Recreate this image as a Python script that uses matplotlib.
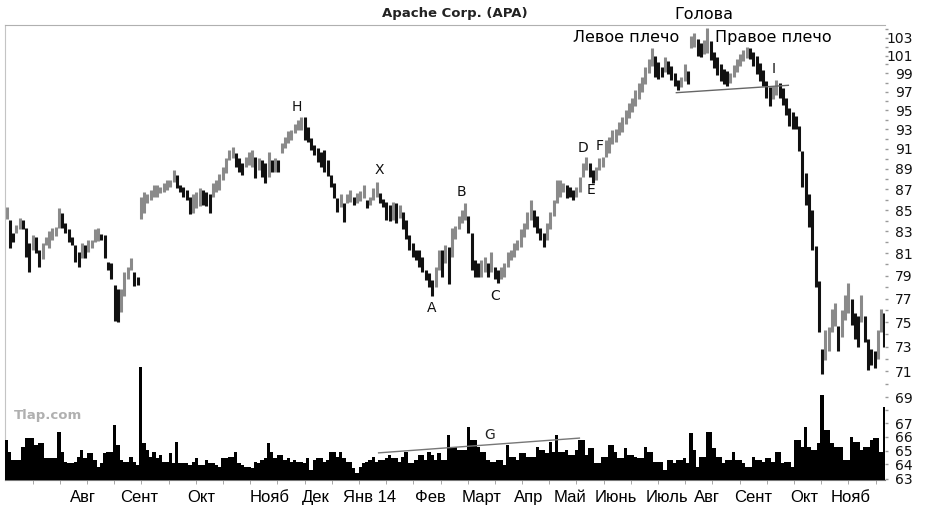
import numpy as np
import matplotlib.pyplot as plt
from matplotlib.ticker import FixedLocator, FuncFormatter, NullFormatter

# Apache Corp. (APA), Jul 2013 - Nov 2014, bar chart
HIGH = [
    85.3, 84.1, 82.9, 83.6, 84.3, 84.1, 83.3, 81.9, 82.7, 82.5,
    81.3, 81.9, 82.5, 83.0, 83.3, 83.4, 85.2, 84.7, 83.8, 83.2,
    82.5, 81.8, 81.1, 81.9, 81.8, 82.2, 82.2, 83.2, 83.3, 82.8,
    82.7, 80.2, 80.1, 78.2, 77.8, 77.8, 79.3, 79.8, 80.6, 79.3,
    78.9,
    86.3, 86.7, 86.5, 86.9, 87.4, 87.4, 87.2, 87.6, 87.9, 87.9,
    88.9, 88.4, 87.4, 87.2, 86.9, 86.3, 86.5, 86.7, 87.1, 86.9,
    86.7, 86.5, 87.6, 87.9, 88.5, 89.2, 90.1, 90.9, 91.2, 90.6,
    90.1, 89.6, 90.2, 90.7, 90.9, 90.2, 90.1, 89.9, 89.6, 90.7,
    89.9, 90.1, 89.9, 91.6, 92.2, 92.8, 92.9, 93.6, 94.0,
    94.3, 94.3, 93.3, 92.1, 91.4, 91.1, 90.7, 90.9, 89.9, 88.4,
    87.6, 86.2, 86.5, 85.7, 86.5, 86.9, 86.3, 86.6, 86.8, 87.4,
    86.0, 86.3, 87.1, 87.7, 86.6, 86.1, 85.8, 85.5, 85.8, 85.7,
    85.5, 84.8, 84.1, 82.7, 81.9, 81.3, 81.3, 80.7, 79.5, 79.2,
    78.6, 79.8, 81.3, 81.3, 81.8, 81.6,
    83.3, 83.5, 84.4, 85.0, 85.7, 84.4, 82.9, 80.4, 80.1, 80.4,
    80.7, 80.1, 81.1, 79.8, 79.5, 79.8, 80.1, 81.1, 81.3, 81.9,
    82.2, 83.2, 83.8, 84.8, 86.0, 85.0, 84.4, 83.3, 82.9, 83.8,
    84.8, 86.0, 87.9, 87.9, 87.6, 87.4, 87.2, 86.9, 87.2, 88.2,
    89.6, 90.2, 89.6, 88.9, 89.2, 90.1, 90.2,
    91.9, 92.2, 92.9, 93.0, 93.8, 94.3, 95.0, 95.8, 96.3, 97.2,
    97.9, 98.6, 99.7, 100.6, 101.9, 101.0, 100.3, 99.7, 100.8, 100.4,
    99.8, 99.1, 98.3, 98.6, 100.0, 99.3, 103.2, 103.6, 102.9, 102.4,
    102.8, 104.2, 102.6, 101.4, 100.8, 100.0, 99.5, 99.3, 99.0, 99.9,
    100.6, 101.2, 101.6, 102.0, 101.8, 101.4, 100.9, 100.2, 99.4, 98.2,
    97.5, 97.6, 98.3, 97.9, 97.4, 96.3, 95.3, 94.8, 94.4, 93.4,
    90.8, 88.6, 86.5, 85.0, 81.7, 78.5, 72.8, 74.4, 74.6, 76.1,
    76.6, 74.7, 76.0, 77.3, 78.4, 77.0, 75.8, 75.5, 77.3, 75.5,
    73.6, 72.8, 72.6, 74.4, 76.1, 75.8, 73.0,
]
LOW = [
    84.2, 81.5, 82.0, 82.9, 83.2, 83.2, 80.7, 79.3, 81.3, 81.0,
    79.8, 80.5, 81.8, 81.5, 82.2, 82.6, 83.3, 83.3, 82.9, 82.0,
    81.8, 80.2, 79.8, 80.6, 80.6, 81.1, 81.5, 82.0, 82.1, 82.2,
    80.6, 79.5, 78.7, 75.1, 75.0, 75.9, 77.2, 78.7, 79.5, 78.1,
    78.2,
    84.2, 84.7, 85.7, 86.0, 86.3, 86.3, 86.6, 86.7, 86.9, 87.2,
    87.7, 87.1, 86.7, 86.3, 86.0, 84.6, 84.7, 85.2, 85.4, 85.5,
    85.4, 84.7, 86.3, 86.7, 86.9, 87.9, 88.6, 89.9, 90.1, 89.2,
    88.7, 88.4, 89.2, 89.4, 89.2, 88.1, 88.9, 88.2, 87.6, 88.2,
    88.7, 88.7, 88.7, 90.6, 91.1, 91.6, 91.9, 92.6, 92.9,
    92.9, 91.9, 91.7, 90.9, 90.4, 89.7, 89.2, 88.7, 88.3, 87.2,
    86.2, 84.8, 85.3, 83.9, 85.7, 85.8, 85.5, 85.7, 85.9, 86.2,
    85.2, 85.5, 86.0, 86.3, 85.7, 85.3, 84.1, 84.0, 84.1, 83.8,
    84.3, 83.2, 82.3, 81.3, 80.7, 80.4, 79.8, 79.3, 78.6, 78.0,
    77.2, 78.0, 79.5, 78.9, 80.1, 78.3,
    80.7, 82.3, 83.2, 83.8, 84.1, 82.9, 79.5, 78.9, 78.9, 78.9,
    79.3, 78.9, 79.3, 78.7, 78.4, 78.7, 78.9, 79.8, 80.4, 80.7,
    81.3, 81.6, 82.5, 83.2, 84.1, 83.4, 82.9, 82.2, 81.6, 82.2,
    83.2, 84.4, 85.7, 86.3, 86.7, 86.2, 86.3, 86.0, 86.3, 86.7,
    88.2, 88.9, 88.2, 87.6, 87.9, 88.9, 89.2,
    90.2, 90.6, 91.5, 91.7, 92.4, 92.7, 93.6, 94.2, 94.8, 95.5,
    96.2, 97.0, 97.8, 99.0, 99.8, 98.6, 98.4, 98.6, 99.2, 98.9,
    98.3, 97.6, 97.2, 97.5, 98.2, 97.8, 101.8, 102.0, 100.9, 100.8,
    101.2, 101.3, 100.5, 99.6, 98.8, 98.2, 97.8, 97.6, 97.9, 98.6,
    99.2, 99.8, 100.4, 100.7, 100.6, 99.8, 98.9, 98.2, 97.6, 96.3,
    95.5, 96.2, 96.6, 96.3, 95.6, 94.5, 93.4, 93.0, 93.1, 90.8,
    87.2, 85.5, 83.4, 81.3, 78.0, 74.2, 70.8, 71.9, 72.6, 74.2,
    74.7, 72.6, 73.8, 75.2, 75.8, 74.8, 73.6, 73.0, 75.0, 73.4,
    71.1, 71.5, 71.3, 72.0, 74.2, 73.0, 71.9,
]
# volume, millions of shares
VOLUME = [
    5.0, 3.5, 2.5, 2.5, 2.5, 4.1, 5.3, 5.3, 5.3, 4.4,
    4.6, 4.6, 2.8, 2.8, 2.8, 2.8, 6.0, 3.5, 2.3, 2.1,
    2.1, 2.3, 2.9, 3.8, 2.8, 3.4, 3.4, 2.5, 1.6, 2.1,
    3.4, 3.5, 3.5, 6.9, 4.4, 2.5, 2.3, 2.3, 2.9, 2.3,
    1.9,
    14.1, 4.6, 3.8, 2.9, 3.5, 2.8, 3.1, 2.3, 2.3, 3.4,
    2.1, 4.8, 2.1, 2.1, 2.1, 1.9, 2.3, 2.8, 1.9, 1.9,
    2.5, 2.1, 2.1, 1.9, 1.6, 2.8, 2.8, 2.9, 2.9, 3.5,
    2.1, 1.9, 1.6, 1.6, 1.5, 2.3, 2.1, 2.5, 2.8, 4.6,
    3.5, 2.8, 3.1, 3.1, 2.5, 2.8, 2.3, 2.5, 2.3,
    2.3, 2.1, 2.8, 1.3, 2.5, 2.8, 2.8, 2.3, 2.5, 3.5,
    3.5, 2.9, 3.5, 2.8, 2.3, 2.3, 1.5, 0.9, 1.6, 2.1,
    2.3, 2.5, 2.9, 2.3, 2.5, 2.5, 2.8, 3.1, 2.8, 2.8,
    2.3, 2.9, 3.5, 2.1, 2.1, 2.5, 3.1, 3.1, 2.5, 3.5,
    3.1, 2.5, 3.4, 2.5, 2.5, 5.6,
    4.1, 4.1, 3.8, 3.8, 3.8, 6.6, 5.0, 5.0, 4.1, 3.5,
    3.5, 2.5, 2.3, 2.3, 2.5, 2.5, 1.9, 4.4, 2.9, 2.9,
    2.5, 3.4, 3.4, 2.9, 2.9, 2.9, 4.1, 3.8, 3.8, 3.4,
    4.8, 3.5, 5.6, 3.5, 3.5, 3.8, 3.1, 3.1, 3.8, 5.0,
    5.0, 3.1, 4.0, 4.0, 2.1, 2.1, 2.9,
    2.9, 4.4, 4.4, 3.5, 2.8, 2.8, 4.0, 3.1, 3.1, 2.9,
    2.8, 2.8, 4.1, 3.5, 3.5, 2.3, 2.3, 2.3, 1.3, 2.5,
    2.5, 2.1, 2.5, 2.5, 2.8, 2.1, 5.9, 3.8, 1.6, 2.9,
    2.9, 6.0, 6.0, 4.0, 2.9, 2.9, 2.1, 2.5, 2.5, 3.5,
    2.5, 2.5, 2.1, 1.6, 1.6, 2.9, 2.5, 2.5, 2.3, 2.8,
    2.8, 2.3, 3.5, 3.5, 2.1, 2.3, 2.3, 1.6, 5.0, 5.0,
    4.1, 6.6, 4.1, 3.8, 3.8, 4.6, 10.6, 6.3, 6.3, 4.6,
    4.1, 4.1, 4.1, 2.5, 2.5, 5.4, 4.8, 4.8, 3.8, 4.1,
    4.1, 5.0, 5.3, 5.3, 3.5, 9.1, 9.1,
]

MONTHS = ['Авг', 'Сент', 'Окт', 'Нояб', 'Дек', 'Янв 14', 'Фев', 'Март',
          'Апр', 'Май', 'Июнь', 'Июль', 'Авг', 'Сент', 'Окт', 'Нояб']
MONTH_POS = [23.2, 40.6, 59.5, 80.3, 94.3, 110.8, 129.4, 145.0,
             159.3, 171.9, 185.9, 201.5, 214.0, 228.0, 243.6, 257.6]
PRICE_TICKS = [103, 101, 99, 97, 95, 93, 91, 89, 87, 85, 83, 81, 79, 77,
               75, 73, 71, 69, 67, 66, 65, 64, 63]

# neckline of the head-and-shoulders top and the volume trend line (G)
NECK_X, NECK_Y = [204.5, 238.7], [96.9, 97.7]
GLINE_X, GLINE_V = [113.6, 174.9], [3.4, 5.25]

high = np.array(HIGH)
low = np.array(LOW)
x = np.arange(len(high))
mid = (high + low) / 2
down = np.r_[False, mid[1:] < mid[:-1]]
colors = np.where(down, '#111111', '#8a8a8a')

fig = plt.figure(figsize=(9.25, 5.13), dpi=100)
ax = fig.add_axes([5 / 925, 33 / 513, 880 / 925, 455 / 513])
vax = ax.twinx()

# volume at the bottom
vax.bar(x, VOLUME, width=1.0, color='black', linewidth=0)
vax.set_ylim(0, 57)
vax.set_yticks([])
for s in vax.spines.values():
    s.set_visible(False)
vax.plot(GLINE_X, GLINE_V, color='#777777', linewidth=1.0)
vax.text(147.4, 5.6, 'G', fontsize=10, ha='center', va='center', color='#222222')

# price bars
ax.vlines(x, low, high, colors=colors, linewidth=2.2)
ax.plot(NECK_X, NECK_Y, color='#666666', linewidth=1.0)

ax.set_yscale('log')
ax.set_ylim(62.9, 104.5)
ax.set_xlim(-0.46, 268.2)
ax.yaxis.tick_right()
ax.yaxis.set_major_locator(FixedLocator(PRICE_TICKS))
ax.yaxis.set_major_formatter(FuncFormatter(lambda v, _: f'{v:.0f}'))
ax.yaxis.set_minor_locator(FixedLocator(range(63, 105)))
ax.yaxis.set_minor_formatter(NullFormatter())
ax.tick_params(axis='y', which='both', length=2, width=1, color='#9a9a9a',
               labelsize=10, pad=18, labelcolor='#111111')
for lab in ax.get_yticklabels():
    lab.set_horizontalalignment('right')

ax.set_xticks(MONTH_POS, MONTHS)
ax.set_xticks(np.arange(8.0, 268, 8.3), minor=True)
ax.tick_params(axis='x', which='major', length=0, pad=7, labelsize=12)
ax.tick_params(axis='x', which='minor', length=3, color='#999999')
for lab in ax.get_xticklabels():
    lab.set_family('Liberation Sans')

ax.spines['right'].set_visible(False)
ax.spines['left'].set_color('#c4c4c4')
ax.spines['top'].set_color('#b0b0b0')
ax.spines['bottom'].set_color('#777777')

# pattern labels
for lab, xi, yi in [('H', 88.5, 95.4), ('X', 113.9, 88.9), ('B', 138.9, 86.7),
                    ('A', 129.7, 76.2), ('C', 149.3, 77.2), ('D', 176.1, 91.1),
                    ('F', 181.0, 91.3), ('E', 178.3, 86.9), ('I', 234.1, 99.5)]:
    ax.text(xi, yi, lab, fontsize=10, ha='center', va='center', color='#111111')

ax.text(189.3, 103.1, 'Левое плечо', fontsize=11.5, ha='center', va='center')
ax.text(234.1, 103.1, 'Правое плечо', fontsize=11.5, ha='center', va='center')
ax.text(212.8, 105.7, 'Голова', fontsize=11.5, ha='center', va='center')

fig.text(455 / 925, 1 - 13 / 513, 'Apache Corp. (APA)', fontsize=9.5,
         fontweight='bold', ha='center', va='center', color='#222222')
fig.text(48 / 925, 1 - 415 / 513, 'Tlap.com', fontsize=9.5, fontweight='bold',
         ha='center', va='center', color='#b0b0b0')

fig.savefig('out.png', dpi=100)
